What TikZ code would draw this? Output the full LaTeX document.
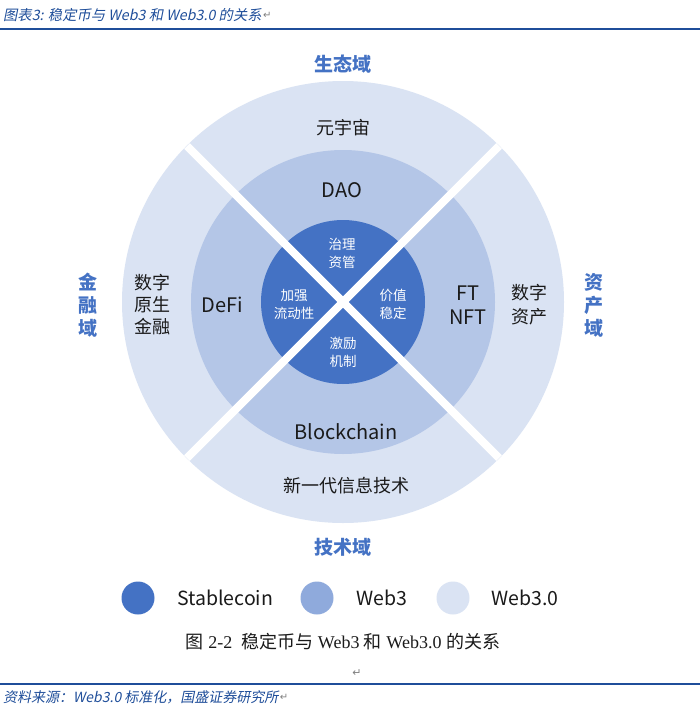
\documentclass[tikz,border=0pt]{standalone}
\usepackage{fontspec}
\usetikzlibrary{calc}
\setmainfont{Liberation Serif}
\newfontfamily\cjk{Noto Sans CJK SC}
\newfontfamily\cjkit[FakeSlant=0.2]{Noto Sans CJK SC}
\newfontfamily\dejavu{DejaVu Sans}
\newfontfamily\tnr{Liberation Serif}
\definecolor{stable}{HTML}{4472C4}
\definecolor{webthree}{HTML}{B4C6E7}
\definecolor{webthreezero}{HTML}{DAE3F3}
\definecolor{legmid}{HTML}{8FAADC}
\definecolor{domain}{HTML}{4472C4}
\definecolor{hdr}{HTML}{1F4E9A}
\definecolor{txt}{HTML}{1A1A1A}
\tikzset{
  ring/.style={circle, draw=none, inner sep=0pt},
  lbl/.style={font=\cjk\fontsize{18}{20}\selectfont, text=txt, align=center, inner sep=0pt},
  lat/.style={font=\cjk\fontsize{20}{23}\selectfont, text=txt, align=center, inner sep=0pt},
  inlbl/.style={font=\cjk\fontsize{13.5}{18}\selectfont, text=white, align=center, inner sep=0pt},
  dom/.style={font=\cjk\bfseries\fontsize{19}{23}\selectfont, text=domain, align=center, inner sep=0pt},
  sep/.style={draw=white, line width=8pt},
  legdot/.style={circle, inner sep=0pt, minimum size=33pt},
  legtxt/.style={font=\cjk\fontsize{19.5}{22}\selectfont, text=txt, anchor=west, inner sep=0pt},
  rule/.style={draw=hdr, line width=1.3pt},
  note/.style={text=hdr, anchor=west, inner sep=0pt, font=\cjkit\fontsize{14.3}{16}\selectfont},
  retmark/.style={text=gray, anchor=west, inner sep=0pt, font=\dejavu\fontsize{10}{12}\selectfont},
}
\begin{document}
\begin{tikzpicture}[x=1pt,y=-1pt]
\path[use as bounding box, fill=white] (0,0) rectangle (700,712);

% header and footer
\node[note] (head) at (3,15) {图表3: 稳定币与 Web3 和 Web3.0 的关系};
\node[retmark] (headret) at ($(head.east)+(1,0)$) {↵};
\coordinate (hl) at (0,29);
\coordinate (hr) at (700,29);
\draw[rule] (hl) -- (hr);
\coordinate (fl) at (0,684);
\coordinate (fr) at (700,684);
\draw[rule] (fl) -- (fr);
\node[note, font=\cjkit\fontsize{14}{16}\selectfont] (foot) at (3,697) {资料来源：Web3.0 标准化，国盛证券研究所};
\node[retmark] (footret) at ($(foot.east)+(1,0)$) {↵};

% rings
\coordinate (c) at (343,302);
\node[ring, fill=webthreezero, minimum size=442pt] (outer) at (c) {};
\node[ring, fill=webthree, minimum size=304pt] (middle) at (c) {};
\node[ring, fill=stable, minimum size=164pt] (inner) at (c) {};
\coordinate (ne) at ($(c)+(156,-156)$);
\coordinate (nw) at ($(c)+(-156,-156)$);
\coordinate (se) at ($(c)+(156,156)$);
\coordinate (sw) at ($(c)+(-156,156)$);
\draw[sep] (nw) -- (se);
\draw[sep] (ne) -- (sw);

% outer labels
\node[lbl] (meta) at (343,128) {元宇宙};
\node[lbl] (tech) at (346,486) {新一代信息技术};
\node[lbl, font=\cjk\fontsize{18}{22}\selectfont] (fin) at (152,305) {数字\\原生\\金融};
\node[lbl, font=\cjk\fontsize{18}{24}\selectfont] (asset) at (529,305) {数字\\资产};

% middle labels
\node[lat] (dao) at (342,190) {DAO};
\node[lat] (defi) at (222,305) {DeFi};
\node[lat, font=\cjk\fontsize{20}{24}\selectfont] (nft) at (468,305) {FT\\NFT};
\node[lat] (chain) at (346,432) {Blockchain};

% inner labels
\node[inlbl] (gov) at (342,253) {治理\\资管};
\node[inlbl] (liq) at (294,304) {加强\\流动性};
\node[inlbl] (val) at (393,304) {价值\\稳定};
\node[inlbl] (inc) at (343,352) {激励\\机制};

% domain labels
\node[dom] (eco) at (343,64) {生态域};
\node[dom] (techd) at (343,547) {技术域};
\node[dom] (find) at (88,305) {金\\融\\域};
\node[dom] (assetd) at (594,305) {资\\产\\域};

% legend
\node[legdot, fill=stable] (d1) at (138,598) {};
\node[legtxt] (t1) at (177,598) {Stablecoin};
\node[legdot, fill=legmid] (d2) at (317,598) {};
\node[legtxt] (t2) at (356,598) {Web3};
\node[legdot, fill=webthreezero] (d3) at (453,598) {};
\node[legtxt] (t3) at (491,598) {Web3.0};

% caption
\node[inner sep=0pt, text=txt] (cap) at (343,642) {\fontsize{18}{21}\selectfont{\cjk 图} {\tnr 2-2} \ {\cjk 稳定币与} {\tnr Web3} {\cjk 和} {\tnr Web3.0} {\cjk 的关系}};
\node[inner sep=0pt, text=gray, font=\dejavu\fontsize{11}{12}\selectfont] (ret) at (357,673) {↵};
\end{tikzpicture}
\end{document}
